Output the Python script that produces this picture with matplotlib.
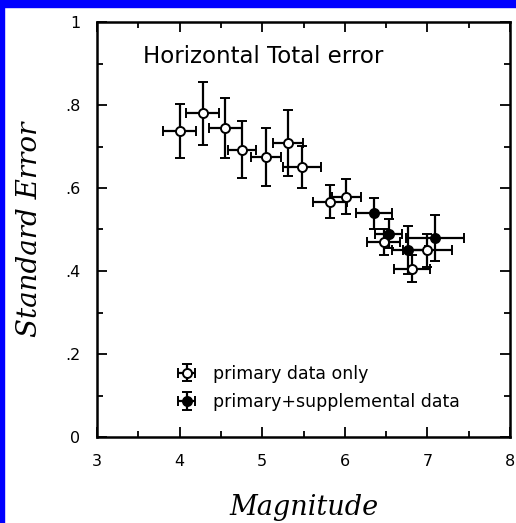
import numpy as np
import matplotlib
matplotlib.use("Agg")
import matplotlib.pyplot as plt
from matplotlib.patches import Rectangle

# primary data only (open circles)
prim_x = [4.00, 4.28, 4.55, 4.76, 5.05, 5.31, 5.48, 5.82, 6.02, 6.47, 6.81, 7.00]
prim_y = [0.737, 0.780, 0.744, 0.692, 0.675, 0.708, 0.651, 0.567, 0.579, 0.470, 0.406, 0.450]
prim_yerr = [0.065, 0.076, 0.072, 0.069, 0.069, 0.080, 0.050, 0.040, 0.042, 0.032, 0.032, 0.040]
prim_xerr = [0.20, 0.20, 0.20, 0.17, 0.18, 0.18, 0.23, 0.21, 0.18, 0.20, 0.22, 0.30]

# primary + supplemental data (filled circles)
supp_x = [6.35, 6.53, 6.77, 7.09]
supp_y = [0.539, 0.490, 0.450, 0.479]
supp_yerr = [0.038, 0.035, 0.058, 0.056]
supp_xerr = [0.22, 0.16, 0.20, 0.35]

xticks = [3, 4, 5, 6, 7, 8]
yticks = [0, 0.2, 0.4, 0.6, 0.8, 1.0]
ytick_labels = ["0", ".2", ".4", ".6", ".8", "1"]

fig = plt.figure(figsize=(5.16, 5.23), dpi=100)
fig.patches.append(Rectangle((0, 1 - 7 / 523), 1, 7 / 523, transform=fig.transFigure,
                             color="#0000ff", zorder=0))
fig.patches.append(Rectangle((0, 0), 4 / 516, 1, transform=fig.transFigure,
                             color="#0000ff", zorder=0))

ax = fig.add_axes([97 / 516, 86 / 523, 413 / 516, 415 / 523])

common = dict(color="black", ecolor="black", elinewidth=1.6, capsize=3.5,
              capthick=1.6, markersize=6.5, markeredgewidth=1.4, linestyle="none")
ax.errorbar(prim_x, prim_y, xerr=prim_xerr, yerr=prim_yerr, fmt="o",
            markerfacecolor="white", markeredgecolor="black",
            label="primary data only", **common)
ax.errorbar(supp_x, supp_y, xerr=supp_xerr, yerr=supp_yerr, fmt="o",
            markerfacecolor="black", markeredgecolor="black",
            label="primary+supplemental data", **common)

ax.set_xlim(3, 8)
ax.set_ylim(0, 1)
ax.set_xticks(xticks)
ax.set_xticks(np.arange(3.5, 8, 1.0), minor=True)
ax.set_yticks(yticks)
ax.set_yticklabels(ytick_labels)
ax.set_yticks(np.arange(0.1, 1.0, 0.2), minor=True)
ax.tick_params(which="both", direction="in", top=True, right=True, width=1.3)
ax.tick_params(which="major", length=7, labelsize=11.5)
ax.tick_params(axis="x", which="major", pad=12)
ax.tick_params(axis="y", which="major", pad=12)
ax.tick_params(which="minor", length=4)
for s in ax.spines.values():
    s.set_linewidth(1.8)

ax.set_xlabel("Magnitude", fontsize=19.5, fontstyle="italic", family="DejaVu Serif", labelpad=18)
ax.set_ylabel("Standard Error", fontsize=20, fontstyle="italic", family="DejaVu Serif", labelpad=16)

ax.text(3.56, 0.916, "Horizontal Total error", fontsize=16.5, va="center", ha="left")

ax.legend(loc="center left", bbox_to_anchor=(0.175, 0.118), frameon=False, fontsize=12.5,
          handlelength=2.0, handletextpad=0.5, labelspacing=0.6, borderpad=0,
          borderaxespad=0)

fig.savefig("out.png", dpi=100, facecolor="white")
